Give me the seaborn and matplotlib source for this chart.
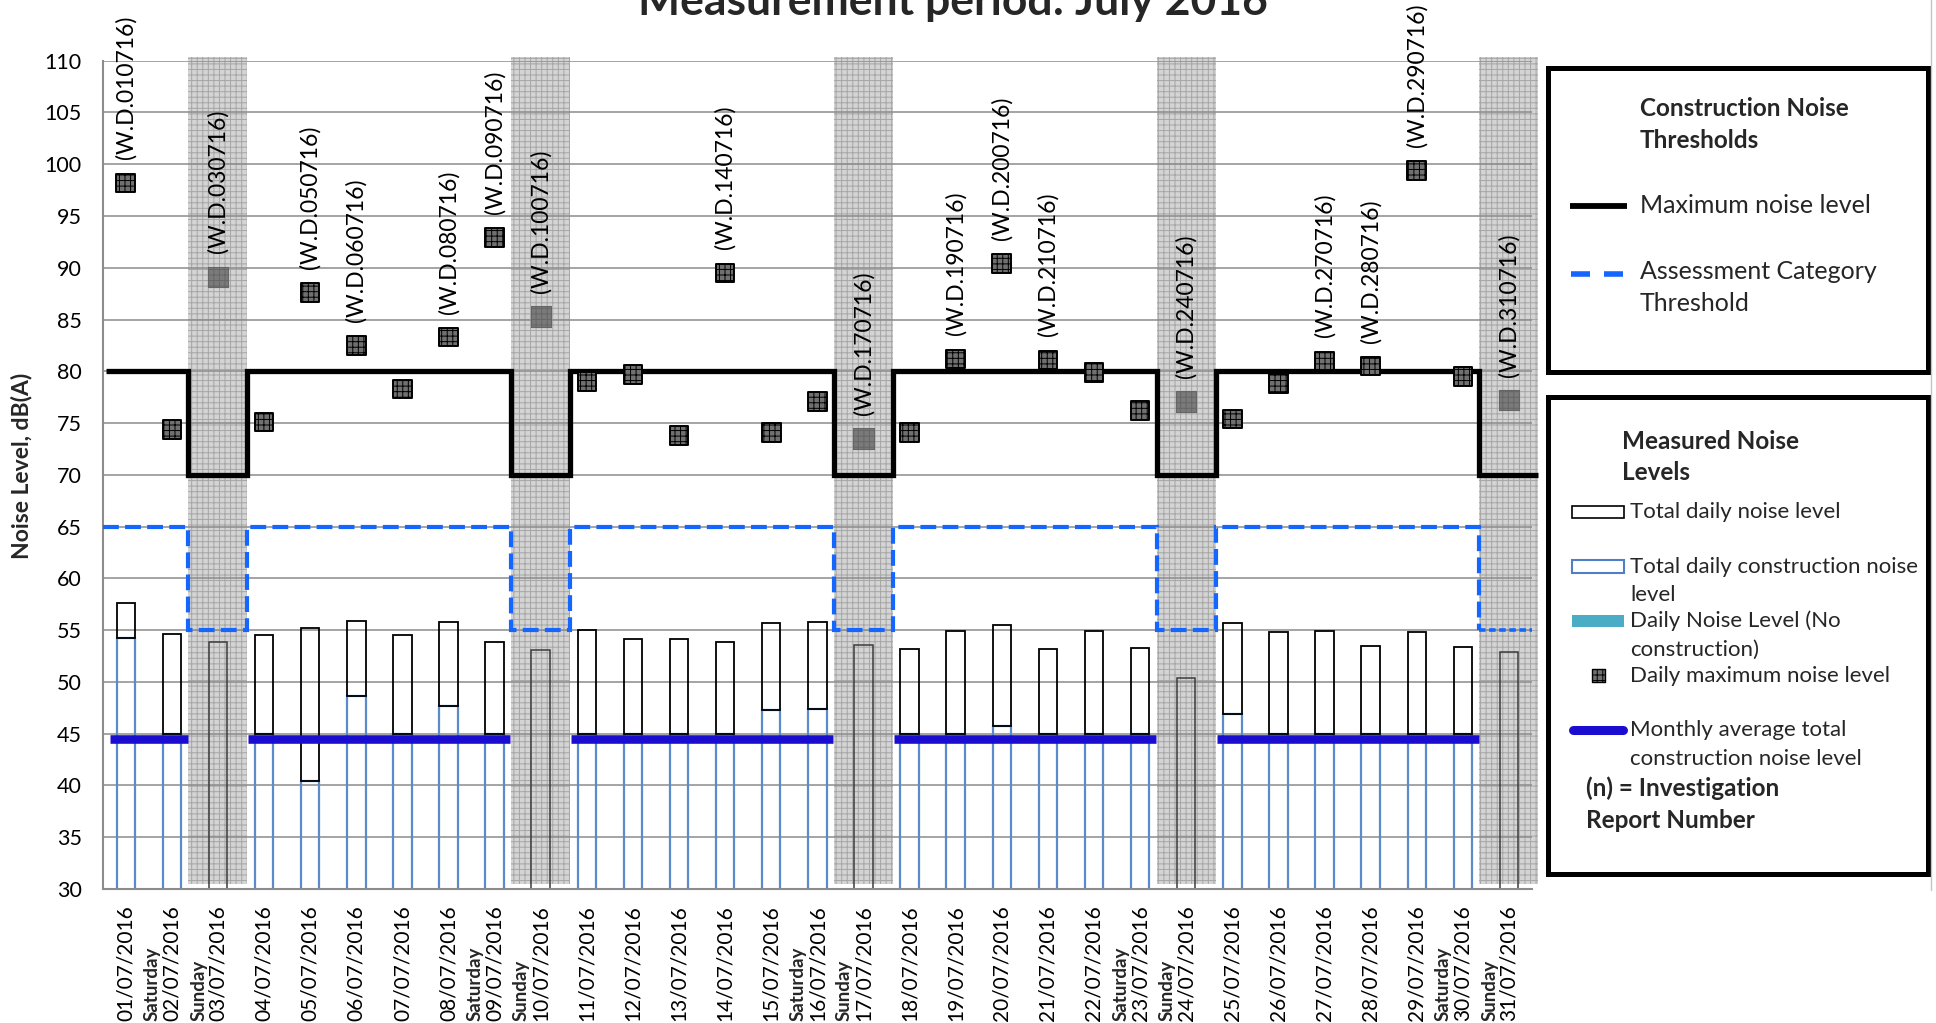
import numpy as np
import pandas as pd
import matplotlib
matplotlib.use("Agg")
import matplotlib.pyplot as plt
import matplotlib.transforms as mtransforms
from matplotlib.patches import Rectangle
from matplotlib.lines import Line2D
import seaborn as sns

# ---------------- data ----------------
days = list(range(1, 32))
date_labels = [f"{d:02d}/07/2016" for d in days]
day_names = {2: "Saturday", 3: "Sunday", 9: "Saturday", 10: "Sunday",
             16: "Saturday", 17: "Sunday", 23: "Saturday", 24: "Sunday",
             30: "Saturday", 31: "Sunday"}
sundays = [3, 10, 17, 24, 31]

total_level = [57.6, 54.6, 53.9, 54.5, 55.2, 55.9, 54.5, 55.8, 53.9, 53.1,
               55.0, 54.1, 54.1, 53.9, 55.7, 55.8, 53.6, 53.2, 54.9, 55.5,
               53.2, 54.9, 53.3, 50.4, 55.7, 54.8, 54.9, 53.5, 54.8, 53.4, 52.9]
construction_level = [54.2, 45.0, None, 45.0, 40.4, 48.6, 45.0, 47.7, 45.0, None,
                      45.0, 45.0, 45.0, 45.0, 47.3, 47.4, None, 45.0, 45.0, 45.7,
                      45.0, 45.0, 45.0, None, 46.9, 45.0, 45.0, 45.0, 45.0, 45.0, None]
daily_max = [98.2, 74.4, 89.1, 75.1, 87.6, 82.5, 78.3, 83.3, 92.9, 85.3,
             79.0, 79.7, 73.8, 89.5, 74.1, 77.1, 73.5, 74.1, 81.2, 90.4,
             81.1, 79.9, 76.2, 77.1, 75.4, 78.8, 81.0, 80.5, 99.4, 79.5, 77.2]
max_threshold = [80, 80, 70, 80, 80, 80, 80, 80, 80, 70, 80, 80, 80, 80, 80, 80,
                 70, 80, 80, 80, 80, 80, 80, 70, 80, 80, 80, 80, 80, 80, 70]
assessment_threshold = [65, 65, 55, 65, 65, 65, 65, 65, 65, 55, 65, 65, 65, 65, 65, 65,
                        55, 65, 65, 65, 65, 65, 65, 55, 65, 65, 65, 65, 65, 65, 55]
monthly_avg_construction = 44.5
report_days = [1, 3, 5, 6, 8, 9, 10, 14, 17, 19, 20, 21, 24, 27, 28, 29, 31]
report_labels = [f"(W.D.{d:02d}0716)" for d in report_days]

df = pd.DataFrame({"day": days, "pos": np.arange(len(days)), "total": total_level,
                   "construction": [np.nan if v is None else v for v in construction_level],
                   "daily_max": daily_max})
df["sunday"] = df["day"].isin(sundays)
wk = df[~df["sunday"]]
su = df[df["sunday"]]

# ---------------- style ----------------
sns.set_theme(style="white")
plt.rcParams["font.family"] = ["Lato", "DejaVu Sans"]
plt.rcParams["hatch.linewidth"] = 0.7
plt.rcParams["hatch.color"] = "#B4B4B4"

W, H = 1936, 1023
fig = plt.figure(figsize=(W / 100, H / 100), dpi=100)
fig.patch.set_facecolor("white")
ax = fig.add_axes([102.7 / W, 1 - 889 / H, (1532 - 102.7) / W, (889 - 60.7) / H])

def fx(x):
    return x / W

def fy(y):
    return 1 - y / H

YMIN, YMAX = 30, 110
HALF = 0.64  # half width of Sunday band (category units)

# Sunday shaded bands
for p in su["pos"]:
    ax.axvspan(p - HALF, p + HALF, ymin=(30.45 - YMIN) / (YMAX - YMIN),
               ymax=(110.4 - YMIN) / (YMAX - YMIN), facecolor="#D4D4D4",
               edgecolor="#A6A6A6", linewidth=0, hatch="+++", zorder=0.2, clip_on=False)

# construction noise bars (blue outline)
sns.barplot(x=wk["pos"], y=wk["construction"], native_scale=True, orient="x",
            width=0.4, fill=False, color="#5B8BCB", linewidth=1.6,
            errorbar=None, ax=ax, zorder=2)
# remaining part of total daily noise (black outline)
ax.bar(wk["pos"], wk["total"] - wk["construction"], bottom=wk["construction"],
       width=0.4, fill=False, edgecolor="black", linewidth=1.3, zorder=2.2)
# Sunday total (no construction)
ax.bar(su["pos"], su["total"], width=0.4, fill=False, edgecolor="#3C3C3C",
       linewidth=1.1, zorder=2.2)


def step_xy(values, start, end, half=HALF):
    xs, ys = [start], [values[0]]
    for i in range(1, len(values)):
        if values[i] != values[i - 1]:
            bx = i - half if values[i] < values[i - 1] else (i - 1) + half
            xs += [bx, bx]
            ys += [values[i - 1], values[i]]
    xs.append(end)
    ys.append(values[-1])
    return xs, ys

# maximum noise level (black step)
mx, my = step_xy(max_threshold, -0.43, 30.62)
ax.plot(mx, my, color="black", lw=3.8, solid_joinstyle="miter",
        solid_capstyle="butt", zorder=3, clip_on=False)

# assessment category threshold (blue dashed step)
axs, ays = step_xy(assessment_threshold, -0.5, 30.5)
ax.plot(axs[:-1], ays[:-1], color="#1565FF", lw=3.0, ls=(0, (3.8, 1.5)),
        dash_joinstyle="miter", zorder=3)
ax.plot(axs[-2:], ays[-2:], color="#1565FF", lw=2.6, ls=(0, (1.8, 1.0)), zorder=3)

# monthly average construction noise (thick blue segments per week)
groups = []
cur = []
for p, s in zip(df["pos"], df["sunday"]):
    if s:
        if cur:
            groups.append(cur)
        cur = []
    else:
        cur.append(p)
if cur:
    groups.append(cur)
for g in groups:
    ax.plot([g[0] - 0.34, g[-1] + 0.34],
            [monthly_avg_construction, monthly_avg_construction],
            color="#1A0DCF", lw=6.2, solid_capstyle="butt", zorder=3.2)

# daily maximum markers
with plt.rc_context({"hatch.color": "#B8B8B8"}):
    sns.scatterplot(x=wk["pos"], y=wk["daily_max"], marker="s", s=180,
                    color="#707070", edgecolor="black", linewidth=1.4,
                    hatch="+++", ax=ax, zorder=5, legend=False)
    sns.scatterplot(x=su["pos"], y=su["daily_max"], marker="s", s=215,
                    color="#7A7A7A", edgecolor="#666666", linewidth=0.8,
                    hatch="+++", ax=ax, zorder=5, legend=False)

# investigation report labels
for d, lab in zip(report_days, report_labels):
    i = d - 1
    ax.annotate(lab, xy=(i, daily_max[i]), xytext=(0, 17), textcoords="offset points",
                rotation=90, ha="center", va="bottom", fontsize=16.5, color="black",
                zorder=6, annotation_clip=False)

# ---------------- axes ----------------
ax.set_xlim(-0.5, 30.5)
ax.set_ylim(YMIN, YMAX)
ax.set_yticks(range(30, 111, 5))
ax.set_xticks(range(len(days)))
ax.set_xticklabels(date_labels, rotation=90, fontsize=15, color="black")
ax.tick_params(axis="x", length=0, pad=12)
ax.tick_params(axis="y", length=0, pad=15, labelsize=15.5, labelcolor="black")
ax.set_xlabel("")
ax.set_ylabel("")
ax.set_axisbelow(True)
ax.yaxis.grid(True, color="#8C8C8C", lw=1.1)
ax.xaxis.grid(False)
for side in ["top", "right"]:
    ax.spines[side].set_visible(False)
for side in ["left", "bottom"]:
    ax.spines[side].set_color("#8C8C8C")
    ax.spines[side].set_linewidth(1.5)
ax.set_facecolor("none")

# weekday names under the date labels
trans = mtransforms.blended_transform_factory(ax.transData, fig.transFigure)
for i, d in enumerate(days):
    if d in day_names:
        ax.text(i - 0.42, fy(1021), day_names[d], rotation=90, ha="center",
                va="bottom", fontsize=13.5, fontweight="bold", transform=trans,
                clip_on=False)

# titles
fig.text(fx(953), fy(15.5), "Measurement period: July 2016", ha="center",
         va="baseline", fontsize=32, fontweight="bold")
fig.text(fx(22), fy(466), "Noise Level, dB(A)", rotation=90, ha="center",
         va="center", fontsize=16.5, fontweight="bold")

# chart border line at right
fig.add_artist(Line2D([fx(1931), fx(1931)], [fy(0), fy(890)], color="#C4C4C4", lw=1.0))

# ---------------- legend boxes ----------------
for (x0, y0, x1, y1) in [(1548, 68.3, 1927.5, 371.7), (1548, 397.2, 1927.5, 873.7)]:
    fig.add_artist(Rectangle((fx(x0), fy(y1)), fx(x1) - fx(x0), fy(y0) - fy(y1),
                             transform=fig.transFigure, fill=False, edgecolor="black",
                             linewidth=3.6, joinstyle="miter"))

FB = 17.5
F1 = 18
fig.text(fx(1640), fy(108.3), "Construction Noise", fontsize=FB, fontweight="bold", va="center")
fig.text(fx(1640), fy(140), "Thresholds", fontsize=FB, fontweight="bold", va="center")
fig.add_artist(Line2D([fx(1570), fx(1626.7)], [fy(205.7)] * 2, color="black", lw=4.2,
                      solid_capstyle="butt"))
fig.text(fx(1640), fy(205.7), "Maximum noise level", fontsize=F1, va="center")
fig.add_artist(Line2D([fx(1570.7), fx(1590)], [fy(274.3)] * 2, color="#1565FF", lw=4,
                      solid_capstyle="butt"))
fig.add_artist(Line2D([fx(1604), fx(1622.7)], [fy(274.3)] * 2, color="#1565FF", lw=4,
                      solid_capstyle="butt"))
fig.text(fx(1640), fy(271.7), "Assessment Category", fontsize=F1, va="center")
fig.text(fx(1640), fy(303.3), "Threshold", fontsize=F1, va="center")

F2 = 16
fig.text(fx(1622), fy(441.7), "Measured Noise", fontsize=FB, fontweight="bold", va="center")
fig.text(fx(1622), fy(473), "Levels", fontsize=FB, fontweight="bold", va="center")
fig.add_artist(Rectangle((fx(1572), fy(518.3)), fx(52), fy(506) - fy(518.3),
                         transform=fig.transFigure, facecolor="white", edgecolor="black", lw=1.2))
fig.text(fx(1630), fy(511.7), "Total daily noise level", fontsize=F2, va="center")
fig.add_artist(Rectangle((fx(1572), fy(573.3)), fx(52), fy(560) - fy(573.3),
                         transform=fig.transFigure, facecolor="white", edgecolor="#4F7FC4", lw=1.5))
fig.text(fx(1630), fy(566.7), "Total daily construction noise", fontsize=F2, va="center")
fig.text(fx(1630), fy(595), "level", fontsize=F2, va="center")
fig.add_artist(Rectangle((fx(1572), fy(627.3)), fx(52), fy(615) - fy(627.3),
                         transform=fig.transFigure, facecolor="#4BACC6", edgecolor="none"))
fig.text(fx(1630), fy(620.7), "Daily Noise Level (No", fontsize=F2, va="center")
fig.text(fx(1630), fy(650), "construction)", fontsize=F2, va="center")
with plt.rc_context({"hatch.color": "#B8B8B8"}):
    ax.scatter([fx(1598.3)], [fy(675.7)], marker="s", s=95, color="#707070",
               edgecolor="black", linewidth=1.0, hatch="+++",
               transform=fig.transFigure, clip_on=False, zorder=6)
fig.text(fx(1630), fy(675.7), "Daily maximum noise level", fontsize=F2, va="center")
fig.add_artist(Line2D([fx(1573), fx(1623)], [fy(730)] * 2, color="#1A0DCF", lw=6.5,
                      solid_capstyle="round"))
fig.text(fx(1630), fy(730), "Monthly average total", fontsize=F2, va="center")
fig.text(fx(1630), fy(759.3), "construction noise level", fontsize=F2, va="center")
fig.text(fx(1586), fy(788.3), "(n) = Investigation", fontsize=FB, fontweight="bold", va="center")
fig.text(fx(1586), fy(820), "Report Number", fontsize=FB, fontweight="bold", va="center")

fig.savefig("out.png", dpi=100, facecolor="white")
